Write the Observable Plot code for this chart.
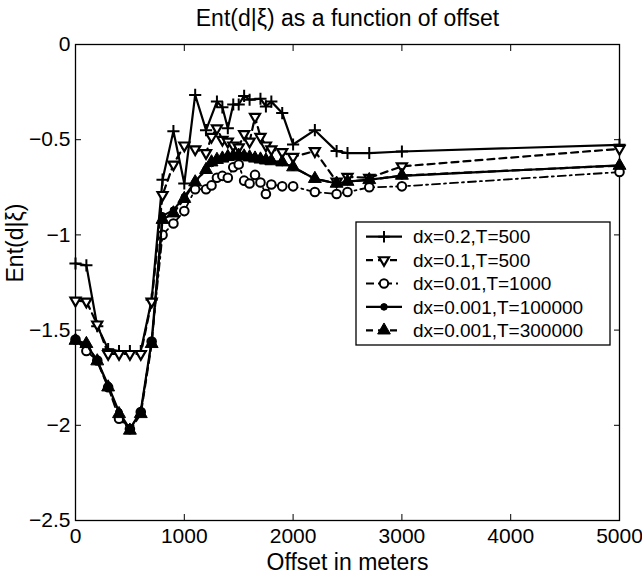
<!DOCTYPE html>
<html><head><meta charset="utf-8">
<script src="https://cdn.jsdelivr.net/npm/d3@7"></script>
<script src="https://cdn.jsdelivr.net/npm/@observablehq/plot@0.6"></script>
<style>body{margin:0;background:#fff} svg{display:block}</style>
</head><body><div id="chart"></div>
<script>
const title = "Ent(d|ξ) as a function of offset";
const xLabel = "Offset in meters";
const yLabel = "Ent(d|ξ)";
const xTicks = [0, 1000, 2000, 3000, 4000, 5000];
const yTicks = [-2.5, -2, -1.5, -1, -0.5, 0];
const seriesNames = ["dx=0.2,T=500", "dx=0.1,T=500", "dx=0.01,T=1000", "dx=0.001,T=100000", "dx=0.001,T=300000"];

// dx=0.2, T=500
const x1 = [0,100,200,300,400,500,600,700,800,900,1000,1100,1200,1300,1350,1400,1450,1500,1550,1600,1700,1750,1800,1900,2000,2200,2400,2500,2700,3000,5000];
const y1 = [-1.15,-1.16,-1.48,-1.60,-1.61,-1.61,-1.61,-1.34,-0.71,-0.455,-0.73,-0.265,-0.45,-0.30,-0.33,-0.44,-0.315,-0.315,-0.27,-0.29,-0.285,-0.325,-0.30,-0.36,-0.525,-0.45,-0.56,-0.57,-0.57,-0.562,-0.527];
// dx=0.1, T=500
const x2 = [0,100,200,300,400,500,600,700,800,900,1000,1100,1200,1250,1300,1350,1400,1450,1500,1550,1600,1650,1700,1750,1800,1900,2000,2200,2400,2500,2700,3000,5000];
const y2 = [-1.345,-1.35,-1.47,-1.625,-1.625,-1.625,-1.625,-1.35,-0.79,-0.63,-0.53,-0.55,-0.57,-0.485,-0.44,-0.50,-0.51,-0.53,-0.54,-0.47,-0.51,-0.38,-0.485,-0.53,-0.55,-0.565,-0.59,-0.56,-0.72,-0.695,-0.70,-0.64,-0.548];
// dx=0.01, T=1000
const x3 = [0,100,200,300,400,500,600,700,800,900,1000,1100,1200,1250,1300,1350,1400,1450,1500,1550,1600,1650,1700,1750,1800,1900,2000,2200,2400,2500,2700,3000,5000];
const y3 = [-1.55,-1.61,-1.66,-1.80,-1.965,-2.02,-1.93,-1.56,-1.0,-0.94,-0.875,-0.76,-0.76,-0.74,-0.70,-0.69,-0.70,-0.645,-0.63,-0.715,-0.73,-0.685,-0.725,-0.785,-0.735,-0.745,-0.745,-0.775,-0.785,-0.775,-0.75,-0.745,-0.67];
// dx=0.001, T=100000
const x4 = [0,100,200,300,400,500,600,700,800,900,1000,1100,1200,1250,1300,1350,1400,1450,1500,1550,1600,1650,1700,1750,1800,1900,2000,2200,2400,2500,2700,3000,5000];
const y4 = [-1.55,-1.575,-1.66,-1.79,-1.93,-2.02,-1.925,-1.555,-0.90,-0.87,-0.80,-0.72,-0.655,-0.625,-0.61,-0.60,-0.59,-0.585,-0.58,-0.585,-0.59,-0.595,-0.60,-0.605,-0.61,-0.62,-0.645,-0.705,-0.73,-0.72,-0.71,-0.69,-0.635];
// dx=0.001, T=300000
const x5 = [0,100,200,300,400,500,600,700,800,900,1000,1100,1200,1250,1300,1350,1400,1450,1500,1550,1600,1650,1700,1750,1800,1900,2000,2200,2400,2500,2700,3000,5000];
const y5 = [-1.555,-1.572,-1.663,-1.80,-1.94,-2.027,-1.94,-1.572,-0.92,-0.886,-0.81,-0.723,-0.658,-0.618,-0.605,-0.598,-0.59,-0.586,-0.583,-0.587,-0.592,-0.598,-0.603,-0.608,-0.612,-0.618,-0.644,-0.705,-0.73,-0.72,-0.711,-0.688,-0.636];

const toRows = (xs, ys) => xs.map((x, i) => ({x, y: ys[i]}));
const d1 = toRows(x1, y1), d2 = toRows(x2, y2), d3r = toRows(x3, y3), d4 = toRows(x4, y4), d5 = toRows(x5, y5);

const FONT = "'Liberation Sans', Arial, Helvetica, sans-serif";
const fmtY = d => d === 0 ? "0" : String(d).replace("-", "\u2212");
const lw = 2.2;

const svg = Plot.plot({
  width: 642, height: 576,
  marginLeft: 75, marginRight: 23, marginTop: 44, marginBottom: 56,
  style: {fontFamily: FONT, background: "white", color: "black"},
  x: {domain: [0, 5000]},
  y: {domain: [-2.5, 0]},
  marks: [
    Plot.frame({stroke: "black", strokeWidth: 1.3}),
    Plot.axisX({anchor: "bottom", ticks: xTicks, tickSize: -6, tickPadding: 14, fontSize: 21, label: null, tickFormat: d => String(d)}),
    Plot.axisX({anchor: "top", ticks: xTicks, tickSize: -6, label: null, tickFormat: () => ""}),
    Plot.axisY({anchor: "left", ticks: yTicks, tickSize: -6, tickPadding: 11, fontSize: 21, label: null, tickFormat: fmtY}),
    Plot.axisY({anchor: "right", ticks: yTicks, tickSize: -6, label: null, tickFormat: () => ""}),
    Plot.text([title], {frameAnchor: "top", lineAnchor: "middle", dy: -26, fontSize: 23, fill: "black"}),
    Plot.text([xLabel], {frameAnchor: "bottom", lineAnchor: "middle", dy: 42, fontSize: 23, fill: "black"}),
    Plot.text([yLabel], {frameAnchor: "left", lineAnchor: "middle", dx: -60, rotate: -90, fontSize: 23, fill: "black"}),

    Plot.line(d1, {x: "x", y: "y", stroke: "black", strokeWidth: lw}),
    Plot.dot(d1, {x: "x", y: "y", symbol: "plus", r: 4, stroke: "black", strokeWidth: 2}),

    Plot.line(d2, {x: "x", y: "y", stroke: "black", strokeWidth: lw, strokeDasharray: "7,5"}),
    Plot.dot(d2, {x: "x", y: "y", symbol: "triangle2", rotate: 180, r: 4.8, fill: "white", stroke: "black", strokeWidth: 2.2}),

    Plot.line(d3r, {x: "x", y: "y", stroke: "black", strokeWidth: 1.8, strokeDasharray: "8,4,2,4"}),
    Plot.dot(d3r, {x: "x", y: "y", symbol: "circle", r: 4.3, fill: "white", stroke: "black", strokeWidth: 2}),

    Plot.line(d4, {x: "x", y: "y", stroke: "black", strokeWidth: lw}),
    Plot.dot(d4, {x: "x", y: "y", symbol: "circle", r: 3.3, fill: "black", stroke: "black", strokeWidth: 1}),

    Plot.line(d5, {x: "x", y: "y", stroke: "black", strokeWidth: lw, strokeDasharray: "7,5"}),
    Plot.dot(d5, {x: "x", y: "y", symbol: "triangle", r: 4.8, fill: "black", stroke: "black", strokeWidth: 1})
  ]
});

// Legend (inside plot, MATLAB style)
const lg = d3.select(svg).append("g").attr("font-family", FONT).attr("font-size", 19)
  .attr("text-anchor", "start");
const bx = 356, by = 222, bw = 254, bh = 123;
lg.append("rect").attr("x", bx).attr("y", by).attr("width", bw).attr("height", bh)
  .attr("fill", "white").attr("stroke", "black").attr("stroke-width", 1.3);
const rowY = i => by + 14.7 + i * 23.4;
const styles = [
  {dash: null, sym: d3.symbolPlus, size: 45, fill: "none", sw: 2, rot: 0},
  {dash: "7,5", sym: d3.symbolTriangle2, size: 70, fill: "white", sw: 2.2, rot: 180},
  {dash: "8,4,2,4", sym: d3.symbolCircle, size: 55, fill: "white", sw: 2, rot: 0},
  {dash: null, sym: d3.symbolCircle, size: 34, fill: "black", sw: 1, rot: 0},
  {dash: "7,5", sym: d3.symbolTriangle, size: 70, fill: "black", sw: 1, rot: 0}
];
seriesNames.forEach((name, i) => {
  const y = rowY(i), s = styles[i];
  const ln = lg.append("line").attr("x1", 366).attr("x2", 402).attr("y1", y).attr("y2", y)
    .attr("stroke", "black").attr("stroke-width", 2.2);
  if (s.dash) ln.attr("stroke-dasharray", s.dash);
  lg.append("path").attr("d", d3.symbol(s.sym, s.size)())
    .attr("transform", `translate(384,${y}) rotate(${s.rot})`)
    .attr("fill", s.fill).attr("stroke", "black").attr("stroke-width", s.sw);
  lg.append("text").attr("x", 413).attr("y", y).attr("dy", "0.35em").attr("fill", "black")
    .attr("text-anchor", "start").text(name);
});

document.getElementById("chart").appendChild(svg);
</script>
</body></html>
